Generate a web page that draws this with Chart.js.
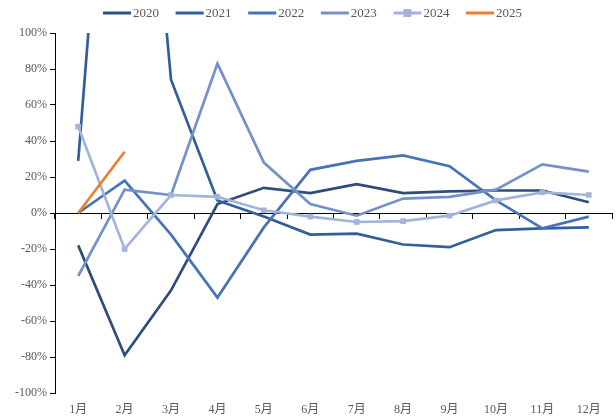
<!DOCTYPE html>
<html>
<head>
<meta charset="utf-8">
<script src="https://cdn.jsdelivr.net/npm/chart.js@4.4.1/dist/chart.umd.min.js"></script>
<style>
html,body{margin:0;padding:0;background:#fff;}
#wrap{width:616px;height:418px;position:relative;}
</style>
</head>
<body>
<div id="wrap"><canvas id="c" width="616" height="418"></canvas></div>
<script>
const months = ["1月","2月","3月","4月","5月","6月","7月","8月","9月","10月","11月","12月"];
const yTicks = [-100,-80,-60,-40,-20,0,20,40,60,80,100];
const seriesNames = ["2020","2021","2022","2023","2024","2025"];
const s2020 = [-18,-79,-43,5,14,11,16,11,12,12.5,12.5,6];
const s2021 = [29,355,74,7,-2,-12,-11.5,-17.5,-19,-9.5,-8.5,-8];
const s2022 = [0,18,-12,-47,-8,24,29,32,26,7,-8.5,-2];
const s2023 = [-35,13,10,83,28,5,-1.5,8,9,13,27,23];
const s2024 = [48,-20,10,9,1.5,-2,-5,-4.5,-1.5,7,11.5,10];
const s2025 = [0,34];
const colors = ["#2E4D7D","#335E9C","#4674B6","#7492C8","#A2B4D9","#ED7D31"];

const FONT = "'Liberation Serif','Noto Sans CJK SC',serif";

const allSeries = [s2020,s2021,s2022,s2023,s2024,s2025];
const datasets = allSeries.map((d,i)=>({
  label: seriesNames[i],
  data: d,
  borderColor: colors[i],
  backgroundColor: colors[i],
  borderWidth: 2.7,
  pointRadius: i===4 ? 4 : 0,
  pointStyle: 'rect',
  pointBorderWidth: 0,
  tension: 0,
  order: 5-i
}));

const legendPlugin = {
  id: 'customLegend',
  afterDraw(chart){
    const ctx = chart.ctx;
    ctx.save();
    ctx.font = "13px " + FONT;
    ctx.textBaseline = 'middle';
    const y = 13;
    const startX = 103, step = 72.6;
    seriesNames.forEach((n,i)=>{
      const x = startX + i*step;
      ctx.strokeStyle = colors[i];
      ctx.lineWidth = 3;
      ctx.beginPath(); ctx.moveTo(x,y); ctx.lineTo(x+28,y); ctx.stroke();
      if(i===4){
        ctx.fillStyle = colors[i];
        ctx.fillRect(x+14-4,y-4,8,8);
      }
      ctx.fillStyle = '#595959';
      ctx.textAlign = 'left';
      ctx.fillText(n, x+30, y+1);
    });
    ctx.restore();
  }
};

new Chart(document.getElementById('c'), {
  type: 'line',
  data: { labels: months, datasets },
  options: {
    responsive: false,
    animation: false,
    events: [],
    layout: { padding: { top: 33, right: 4, left: 0, bottom: 0 } },
    plugins: { legend: { display: false }, tooltip: { enabled: false } },
    scales: {
      x: {
        type: 'category',
        offset: true,
        position: 'bottom',
        border: { display: false },
        grid: { display: false, drawTicks: false },
        ticks: { color: '#595959', font: { family: FONT, size: 12 }, padding: 10, maxRotation: 0, autoSkip: false },
        afterFit(s){ s.height = 25; }
      },
      x2: {
        type: 'category',
        labels: months,
        offset: true,
        position: { y: 0 },
        border: { display: true, color: '#000', width: 1 },
        grid: { display: true, offset: true, drawOnChartArea: false, drawTicks: true, tickLength: 5, color: '#000' },
        ticks: { display: false }
      },
      y: {
        min: -100, max: 100,
        afterBuildTicks(s){ s.ticks = yTicks.map(v=>({value:v})); },
        border: { display: true, color: '#000', width: 1 },
        grid: { drawOnChartArea: false, drawTicks: true, tickLength: 5, color: '#000' },
        ticks: { color: '#595959', font: { family: FONT, size: 12 }, padding: 3, callback: v => v + '%' },
        afterFit(s){ s.width = 55; }
      }
    }
  },
  plugins: [legendPlugin]
});
</script>
</body>
</html>
